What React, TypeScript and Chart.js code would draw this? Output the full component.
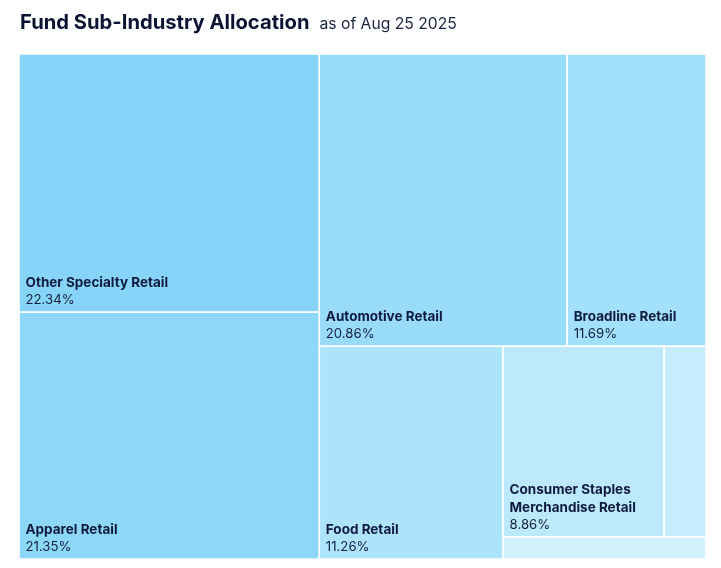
import { useEffect, useRef } from "react";
import { Chart, registerables } from "chart.js";

Chart.register(...registerables);

const categories = [
  "Other Specialty Retail",
  "Apparel Retail",
  "Automotive Retail",
  "Broadline Retail",
  "Food Retail",
  "Consumer Staples Merchandise Retail",
  "Home Improvement Retail",
  "Distributors",
];
const weights = [22.34, 21.35, 20.86, 11.69, 11.26, 8.86, 2.3, 1.28];
const tileColors = [
  "#87d4f9",
  "#8dd8f9",
  "#98dbfa",
  "#a3e0fb",
  "#aee4fb",
  "#bde9fc",
  "#c6edfd",
  "#d4f2fd",
];

type R = { x: number; y: number; w: number; h: number };

// Highcharts-style "squarified" (low aspect ratio, alternating direction)
function squarified(areas: number[], W: number, H: number): R[] {
  const out: R[] = [];
  let dir = 0;
  let gw = W;
  let gh = H;
  let els: number[] = [];
  let total = 0;
  let nW = 0, lW = 0, nH = 0, lH = 0;
  let lastR = NaN, newR = NaN;
  let px = 0, py = 0;
  const ar = (a: number, b: number) => Math.max(a / b, b / a);
  const add = (el: number) => {
    const prev: any = els.length ? els[els.length - 1] : undefined;
    total += el;
    if (dir === 0) {
      lW = nW;
      lastR = prev === undefined ? NaN : ar(lW, prev / lW);
      nW = total / gh;
      newR = prev === undefined ? NaN : ar(nW, prev / nW);
    } else {
      lH = nH;
      lastR = prev === undefined ? NaN : ar(prev / lH, lH);
      nH = total / gw;
      newR = prev === undefined ? NaN : ar(prev / nH, nH);
    }
    els.push(el);
  };
  const calc = (last: boolean) => {
    const end = els.length - 1;
    const cw = last ? nW : lW;
    const ch = last ? nH : lH;
    const keep = els[end];
    els.forEach((p, i) => {
      if (last || i < end) {
        if (dir === 0) {
          out.push({ x: px, y: py, w: cw, h: p / cw });
          py += p / cw;
        } else {
          out.push({ x: px, y: py, w: p / ch, h: ch });
          px += p / ch;
        }
      }
    });
    nW = 0;
    lW = 0;
    els = [];
    total = 0;
    if (dir === 0) gw -= cw;
    else gh -= ch;
    py = H - gh;
    px = W - gw;
    dir = 1 - dir;
    if (!last) add(keep);
  };
  areas.forEach((a, i) => {
    add(a);
    if (newR > lastR) calc(false);
    if (i === areas.length - 1) calc(true);
  });
  return out;
}

function wrapWords(ctx: CanvasRenderingContext2D, text: string, maxW: number): string[] | null {
  const words = text.split(" ");
  const lines: string[] = [];
  let cur = "";
  for (const w of words) {
    if (ctx.measureText(w).width > maxW) return null;
    const t = cur ? cur + " " + w : w;
    if (ctx.measureText(t).width <= maxW) cur = t;
    else {
      lines.push(cur);
      cur = w;
    }
  }
  if (cur) lines.push(cur);
  return lines;
}

const treemapPlugin = {
  id: "treemapTiles",
  afterDatasetsDraw(chart: any) {
    const { ctx, chartArea: ca, scales } = chart;
    const xs = scales.x;
    const ys = scales.y;
    const W = ca.right - ca.left;
    const H = ca.bottom - ca.top;
    const order = weights.map((_, i) => i).sort((a, b) => weights[b] - weights[a]);
    const sum = weights.reduce((s, v) => s + v, 0);
    const areas = order.map((i) => (weights[i] / sum) * W * H);
    const rects = squarified(areas, W, H);
    ctx.save();
    rects.forEach((r, k) => {
      const idx = order[k];
      const x0 = xs.getPixelForValue((r.x / W) * 100);
      const x1 = xs.getPixelForValue(((r.x + r.w) / W) * 100);
      const y0 = ys.getPixelForValue((r.y / H) * 100);
      const y1 = ys.getPixelForValue(((r.y + r.h) / H) * 100);
      ctx.fillStyle = tileColors[idx];
      ctx.fillRect(x0, y0, x1 - x0, y1 - y0);
      ctx.strokeStyle = "#ffffff";
      ctx.lineWidth = 1.5;
      ctx.strokeRect(x0, y0, x1 - x0, y1 - y0);

      const tx = x0 + 6.5;
      const maxW = x1 - x0 - 13;
      if (maxW < 30) return;
      ctx.font = "bold 13.5px Inter";
      const lines = wrapWords(ctx, categories[idx], maxW);
      if (!lines) return;
      const lh = 17.5;
      const baseP = y1 - 8;
      if ((lines.length + 1) * lh + 4 > y1 - y0) return;
      ctx.fillStyle = "#0f1a3c";
      ctx.textBaseline = "alphabetic";
      ctx.textAlign = "left";
      lines.forEach((ln, li) => {
        ctx.fillText(ln, tx, baseP - lh * (lines.length - li));
      });
      ctx.font = "13.2px Inter";
      ctx.fillStyle = "#141e3c";
      ctx.fillText(weights[idx].toFixed(2) + "%", tx, baseP);
    });
    ctx.restore();
  },
};

export default function App() {
  const ref = useRef<HTMLCanvasElement | null>(null);
  useEffect(() => {
    if (!ref.current) return;
    const chart = new Chart(ref.current, {
      type: "scatter",
      data: { datasets: [{ data: [] }] },
      options: {
        animation: false,
        responsive: false,
        maintainAspectRatio: false,
        layout: { padding: { left: 19, right: 15, top: 54, bottom: 9 } },
        plugins: { legend: { display: false }, tooltip: { enabled: false } },
        scales: {
          x: { type: "linear", min: 0, max: 100, display: false },
          y: { type: "linear", min: 0, max: 100, reverse: true, display: false },
        },
      },
      plugins: [treemapPlugin],
    });
    return () => chart.destroy();
  }, []);
  return (
    <div style={{ position: "absolute", left: 0, top: 0, width: 721, height: 568, background: "#fff" }}>
      <canvas ref={ref} width={721} height={568} style={{ position: "absolute", left: 0, top: 0 }} />
      <div
        style={{
          position: "absolute",
          left: 20,
          top: 12,
          display: "flex",
          alignItems: "baseline",
          fontFamily: "Inter, sans-serif",
          lineHeight: "20px",
          whiteSpace: "nowrap",
        }}
      >
        <span style={{ fontSize: 20.2, fontWeight: 700, color: "#0c1433" }}>Fund Sub-Industry Allocation</span>
        <span style={{ fontSize: 15.7, fontWeight: 400, color: "#1a2440", marginLeft: 10 }}>as of Aug 25 2025</span>
      </div>
    </div>
  );
}
